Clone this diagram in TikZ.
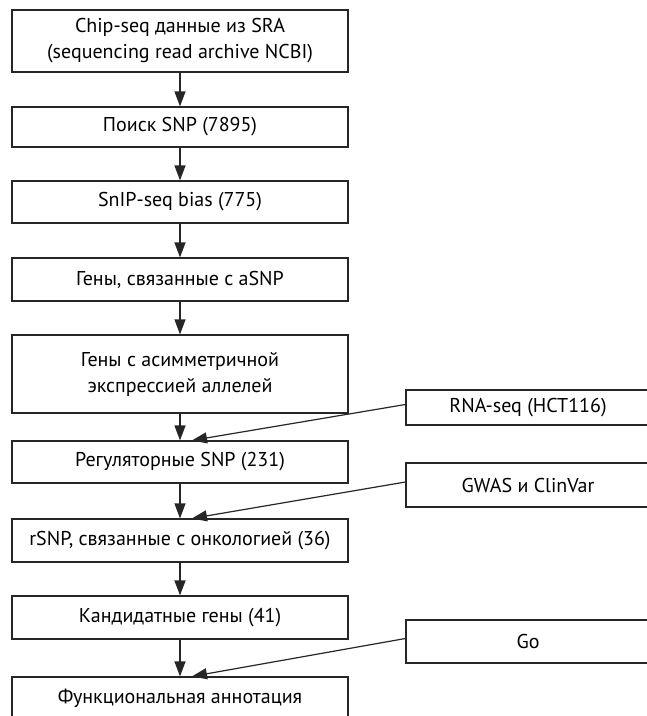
\documentclass[tikz,border=0pt]{standalone}
\usepackage{fontspec}
\setmainfont{PT Sans}
\usetikzlibrary{arrows.meta}
\begin{document}
\begin{tikzpicture}[x=1pt,y=-1pt,
  box/.style={draw=black!85, line width=1.2pt, rectangle, align=center, inner sep=0pt,
    font=\fontsize{20}{26}\selectfont},
  mainbox/.style={box, minimum width=336pt},
  sidebox/.style={box, minimum width=244pt},
  arr/.style={draw=black!85, line width=1.2pt, -{Triangle[length=15pt,width=11pt]}}]
\useasboundingbox (0,0) rectangle (647,716);
\clip (0,0) rectangle (647,716);
\node[mainbox, minimum height=62pt] (b1) at (180,41) {Chip-seq данные из SRA\\(sequencing read archive NCBI)};
\node[mainbox, minimum height=40pt] (b2) at (180,127) {Поиск SNP (7895)};
\node[mainbox, minimum height=42pt] (b3) at (180,202) {SnIP-seq bias (775)};
\node[mainbox, minimum height=43pt] (b4) at (180,279.5) {Гены, связанные с aSNP};
\node[mainbox, minimum height=78pt] (b5) at (180,374) {Гены с асимметричной\\экспрессией аллелей};
\node[mainbox, minimum height=42pt] (b6) at (180,462) {Регуляторные SNP (231)};
\node[mainbox, minimum height=43pt] (b7) at (180,540.5) {rSNP, связанные с онкологией (36)};
\node[mainbox, minimum height=43pt] (b8) at (180,617.5) {Кандидатные гены (41)};
\node[mainbox, minimum height=43pt] (b9) at (180,698.5) {Функциональная аннотация};
\node[sidebox, minimum height=35pt] (rna) at (528,407.5) {RNA-seq (HCT116)};
\node[sidebox, minimum height=44pt] (gwas) at (528,485) {GWAS и ClinVar};
\node[sidebox, minimum height=43pt] (go) at (528,641.5) {Go};
\draw[arr] (b1.south) -- (b2.north);
\draw[arr] (b2.south) -- (b3.north);
\draw[arr] (b3.south) -- (b4.north);
\draw[arr] (b4.south) -- (b5.north);
\draw[arr] (b5.south) -- (b6.north);
\draw[arr] (b6.south) -- (b7.north);
\draw[arr] (b7.south) -- (b8.north);
\draw[arr] (b8.south) -- (b9.north);
\draw[arr] ([yshift=3pt]rna.west) -- ([xshift=12pt]b6.north);
\draw[arr] ([yshift=3pt]gwas.west) -- ([xshift=12pt]b7.north);
\draw[arr] ([yshift=3pt]go.west) -- ([xshift=12pt]b9.north);
\end{tikzpicture}
\end{document}
